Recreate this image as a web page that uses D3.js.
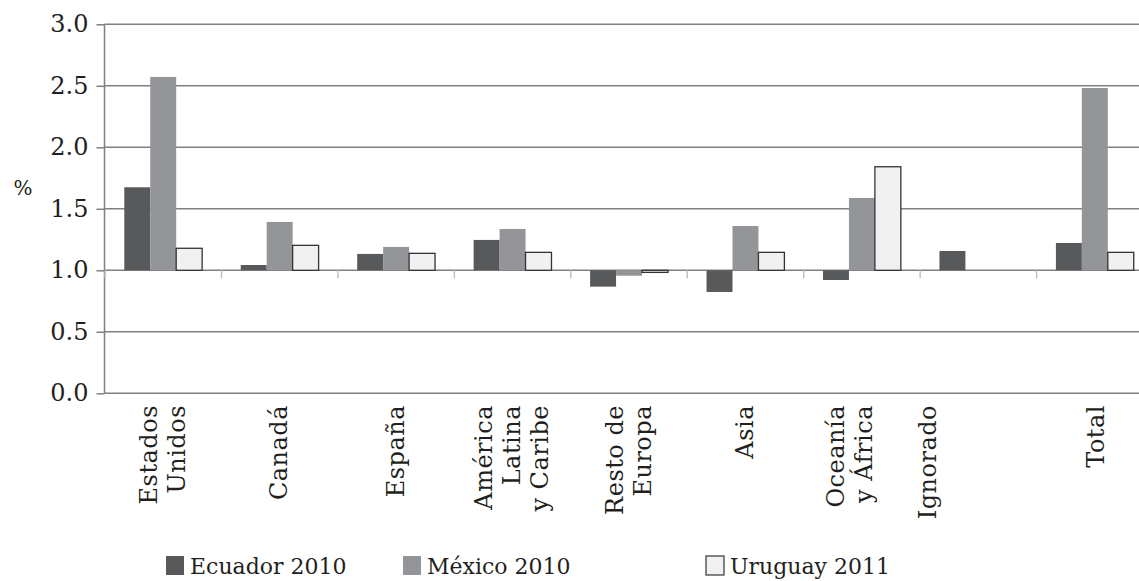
<!DOCTYPE html>
<html>
<head>
<meta charset="utf-8">
<script src="https://cdn.jsdelivr.net/npm/d3@7"></script>
<style>
  html, body { margin: 0; padding: 0; background: #fff; }
  svg { display: block; }
  text { font-family: "DejaVu Serif", "Liberation Serif", serif; fill: #231f20; }
</style>
</head>
<body>
<svg id="chart" width="1139" height="581"></svg>
<script>
// ---- data ----
const categories = ["Estados\nUnidos", "Canadá", "España", "América\nLatina\ny Caribe", "Resto de\nEuropa", "Asia", "Oceanía\ny África", "Ignorado", "Total"];
const seriesNames = ["Ecuador 2010", "México 2010", "Uruguay 2011"];
const ecuador = [1.675, 1.043, 1.133, 1.247, 0.867, 0.824, 0.921, 1.157, 1.222];
const mexico  = [2.572, 1.393, 1.190, 1.336, 0.956, 1.360, 1.588, null, 2.482];
const uruguay = [1.179, 1.203, 1.138, 1.146, 0.983, 1.146, 1.842, null, 1.146];
const yTicks = [0.0, 0.5, 1.0, 1.5, 2.0, 2.5, 3.0];
const yLabel = "%";
const baseValue = 1.0;

// ---- layout ----
const svg = d3.select("#chart");
const W = 1139;
const plotLeft = 104.5, plotTop = 24.3, plotBottom = 393.3;
const bandW = 116.45;
const colors = ["#58595b", "#939598", "#f1f1f1"];
const labelShift = [0, 0, 0, 0, 0, 0, -12, -50, 2];

const x = d3.scaleBand().domain(categories).range([105, 105 + bandW * categories.length]).padding(0);
const x1 = d3.scaleBand().domain(seriesNames).range([19.3, x.bandwidth() - 19.3]).padding(0);
const y = d3.scaleLinear().domain([0, 3]).range([plotBottom, plotTop]);

// gridlines
svg.append("g").selectAll("line").data(yTicks).join("line")
  .attr("x1", plotLeft).attr("x2", W)
  .attr("y1", d => y(d)).attr("y2", d => y(d))
  .attr("stroke", "#808080").attr("stroke-width", 1.5);

// y axis
const yAxis = d3.axisLeft(y).tickValues(yTicks).tickFormat(d3.format(".1f")).tickSize(8).tickPadding(8);
const ga = svg.append("g").attr("transform", `translate(${plotLeft},0)`).call(yAxis);
ga.select(".domain").attr("stroke", "#808080").attr("stroke-width", 1.5).attr("d", `M0,${plotTop}V${plotBottom}`);
ga.selectAll(".tick line").attr("stroke", "#808080").attr("stroke-width", 1.5);
ga.selectAll(".tick text").style("font-size", "24px").style("font-family", "DejaVu Serif").attr("fill", "#231f20");

// y label
svg.append("text").attr("x", 23).attr("y", 188).attr("text-anchor", "middle")
  .attr("dominant-baseline", "central").style("font-size", "20px").text(yLabel);

// category ticks at baseline
svg.append("g").selectAll("line").data(categories).join("line")
  .attr("x1", d => x(d)).attr("x2", d => x(d))
  .attr("y1", y(baseValue)).attr("y2", y(baseValue) + 8)
  .attr("stroke", "#bdbdbd").attr("stroke-width", 1.4);

// bars
const allSeries = [ecuador, mexico, uruguay];
allSeries.forEach((vals, si) => {
  const name = seriesNames[si];
  svg.append("g").selectAll("rect")
    .data(vals.map((v, i) => ({ v, c: categories[i] })).filter(d => d.v !== null))
    .join("rect")
    .attr("x", d => x(d.c) + x1(name))
    .attr("width", x1.bandwidth())
    .attr("y", d => Math.min(y(d.v), y(baseValue)))
    .attr("height", d => Math.abs(y(d.v) - y(baseValue)))
    .attr("fill", colors[si])
    .attr("stroke", si === 2 ? "#333" : "none")
    .attr("stroke-width", si === 2 ? 1.3 : 0);
});

// category labels (rotated)
const lab = svg.append("g").selectAll("g").data(categories).join("g")
  .attr("transform", (d, i) => `translate(${x(d) + x.bandwidth() / 2 - 1 + labelShift[i]},405) rotate(-90)`);
lab.each(function (d) {
  const lines = d.split("\n");
  const n = lines.length;
  const t = d3.select(this).append("text").attr("text-anchor", "end")
    .style("font-size", "24px").style("letter-spacing", "0.5px");
  lines.forEach((ln, i) => {
    t.append("tspan").attr("x", 0).attr("y", (i - (n - 1) / 2) * 28).attr("dy", "0.36em").text(ln);
  });
});

// legend
const legendX = [166, 403, 706];
const lg = svg.append("g").selectAll("g").data(seriesNames).join("g")
  .attr("transform", (d, i) => `translate(${legendX[i]},556)`);
lg.append("rect").attr("width", 18).attr("height", 19)
  .attr("fill", (d, i) => colors[i])
  .attr("stroke", (d, i) => i === 2 ? "#333" : "none").attr("stroke-width", 1.2);
lg.append("text").attr("x", 24).attr("y", 18).style("font-size", "22px").text(d => d);
</script>
</body>
</html>
